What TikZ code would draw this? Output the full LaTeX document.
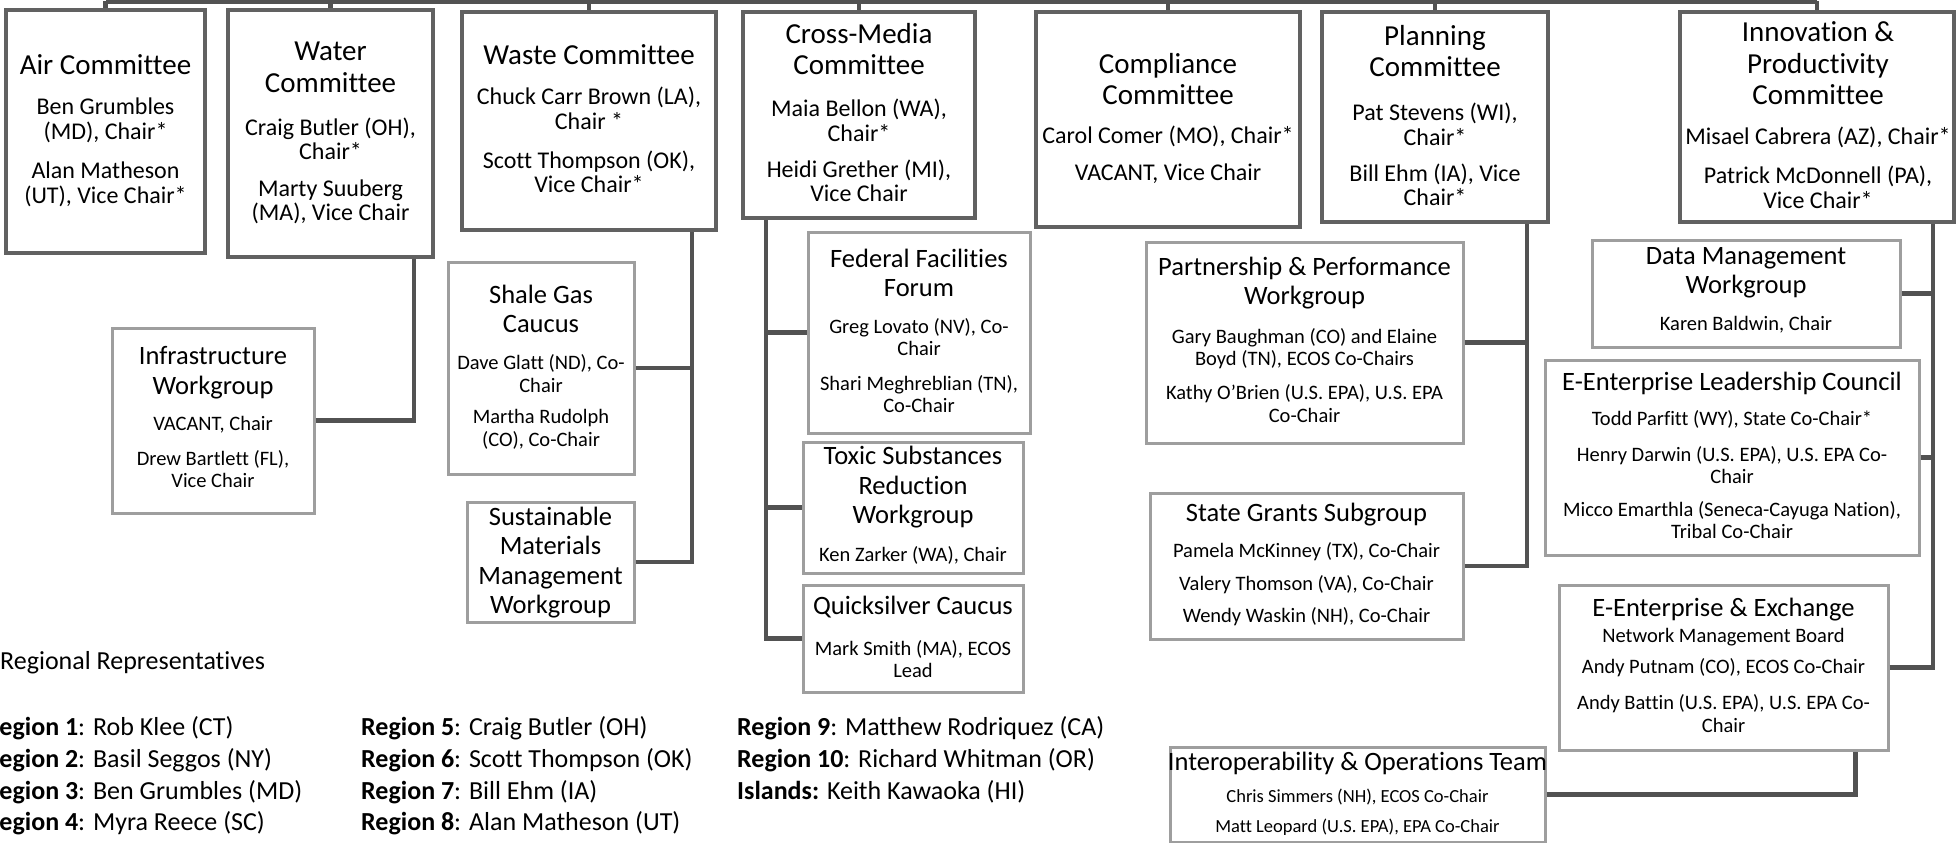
\documentclass[tikz,border=0pt]{standalone}
\usepackage{fontspec}
\setmainfont{Carlito}[Ligatures={TeX,NoCommon,NoContextual}]
\usetikzlibrary{calc}
\newcommand{\fs}[2]{\fontsize{#1}{#2}\selectfont}
\newcommand{\mkbox}[6]{\node[#2, minimum width={(#5)-(#3)}, minimum height={(#6)-(#4)}] (#1) at ({((#3)+(#5))/2},{((#4)+(#6))/2}) {};}
\tikzset{
 cbox/.style={draw=black!62, line width=4pt, fill=white, inner sep=0pt, rectangle},
 wbox/.style={draw=black!38, line width=3pt, fill=white, inner sep=0pt, rectangle},
 conn/.style={draw=black!68, line width=4.5pt},
 ctitle/.style={align=center, inner sep=0pt, font=\fs{29}{31.5}},
 cbody/.style={align=center, inner sep=0pt, font=\fs{24}{24.5}},
 wtitle/.style={align=center, inner sep=0pt, font=\fs{26.5}{29.5}},
 wbody/.style={align=center, inner sep=0pt, font=\fs{20.5}{22.5}},
 sbody/.style={align=center, inner sep=0pt, font=\fs{18.5}{21}},
 reg/.style={anchor=west, inner sep=0pt, font=\fs{26}{30}},
}
\begin{document}
\begin{tikzpicture}[x=1pt,y=-1pt]
\clip (0,0) rectangle (1957,843);
\fill[white] (0,0) rectangle (1957,843);

% committees
\mkbox{air}{cbox}{6}{10}{205}{253}
\mkbox{water}{cbox}{228}{10}{433}{257}
\mkbox{waste}{cbox}{462}{12}{716}{230}
\mkbox{cm}{cbox}{743}{12}{975}{218}
\mkbox{comp}{cbox}{1036}{12}{1300}{227}
\mkbox{plan}{cbox}{1322}{12}{1548}{222}
\mkbox{innov}{cbox}{1680}{12}{1954}{222}

% workgroups
\mkbox{infra}{wbox}{112}{328}{314}{513}
\mkbox{shale}{wbox}{448}{262}{634}{474}
\mkbox{sust}{wbox}{467}{502}{634}{622}
\mkbox{fed}{wbox}{808}{232}{1030}{433}
\mkbox{toxic}{wbox}{803}{442}{1023}{573}
\mkbox{quick}{wbox}{803}{585}{1023}{692}
\mkbox{part}{wbox}{1146}{242}{1463}{443}
\mkbox{sg}{wbox}{1150}{493}{1463}{639}
\mkbox{dm}{wbox}{1592}{240}{1900}{347}
\mkbox{elc}{wbox}{1545}{360}{1919}{555}
\mkbox{ee}{wbox}{1559}{585}{1888}{750}
\mkbox{iop}{wbox}{1170}{747}{1545}{842}

% bus and drops
\coordinate (busL) at (air.north |- 0,1.5);
\coordinate (busR) at (innov.north |- 0,1.5);
\draw[conn] (busL) -- (busR);
\foreach \b in {air,water,waste,cm,comp,plan,innov}
  \draw[conn] (\b.north) -- (\b.north |- busL);

% branch connectors
\draw[conn] (infra.east) -| ([xshift=-21pt]water.south east);
\draw[conn] (shale.east) -| ([xshift=-26pt]waste.south east);
\draw[conn] (sust.east) -| ([xshift=-26pt]waste.south east);
\draw[conn] (fed.west) -| ([xshift=25pt]cm.south west);
\draw[conn] (toxic.west) -| ([xshift=25pt]cm.south west);
\draw[conn] (quick.west) -| ([xshift=25pt]cm.south west);
\draw[conn] (part.east) -| ([xshift=-23pt]plan.south east);
\draw[conn] (sg.east) -| ([xshift=-23pt]plan.south east);
\draw[conn] (dm.east) -| ([xshift=-23pt]innov.south east);
\draw[conn] (elc.east) -| ([xshift=-23pt]innov.south east);
\draw[conn] (ee.east) -| ([xshift=-23pt]innov.south east);
\draw[conn] (iop.east) -| ([xshift=-34pt]ee.south east);

% committee texts
\node[ctitle] (air-t) at (105.5,65) {Air Committee};
\node[cbody] (air-1) at (105.5,120.5) {Ben Grumbles\\(MD), Chair*};
\node[cbody] (air-2) at (105.5,184.5) {Alan Matheson\\(UT), Vice Chair*};

\node[ctitle] (water-t) at (330.5,67.5) {Water\\Committee};
\node[cbody] (water-1) at (330.5,139) {Craig Butler (OH),\\Chair*};
\node[cbody] (water-2) at (330.5,201.7) {Marty Suuberg\\(MA), Vice Chair};

\node[ctitle] (waste-t) at (589,55) {Waste Committee};
\node[cbody] (waste-1) at (589,108.3) {Chuck Carr Brown (LA),\\Chair *};
\node[cbody] (waste-2) at (589,171.7) {Scott Thompson (OK),\\Vice Chair*};

\node[ctitle] (cm-t) at (859,49.2) {Cross-Media\\Committee};
\node[cbody] (cm-1) at (859,120.3) {Maia Bellon (WA),\\Chair*};
\node[cbody] (cm-2) at (859,180.8) {Heidi Grether (MI),\\Vice Chair};

\node[ctitle] (comp-t) at (1168,79.2) {Compliance\\Committee};
\node[cbody] (comp-1) at (1168,136.7) {Carol Comer (MO), Chair*};
\node[cbody] (comp-2) at (1168,173.3) {VACANT, Vice Chair};

\node[ctitle] (plan-t) at (1435,50.8) {Planning\\Committee};
\node[cbody] (plan-1) at (1435,124.2) {Pat Stevens (WI),\\Chair*};
\node[cbody] (plan-2) at (1435,185) {Bill Ehm (IA), Vice\\Chair*};

\node[ctitle] (innov-t) at (1818,63.3) {Innovation \&\\Productivity\\Committee};
\node[cbody] (innov-1) at (1818,137) {Misael Cabrera (AZ), Chair*};
\node[cbody] (innov-2) at (1818,187.5) {Patrick McDonnell (PA),\\Vice Chair*};

% workgroup texts
\node[wtitle] (infra-t) at (213,372.5) {Infrastructure\\Workgroup};
\node[wbody] (infra-1) at (213,425) {VACANT, Chair};
\node[wbody] (infra-2) at (213,469) {Drew Bartlett (FL),\\Vice Chair};

\node[wtitle] (shale-t) at (541,309) {Shale Gas\\Caucus};
\node[wbody] (shale-1) at (541,373.5) {Dave Glatt (ND), Co-\\Chair};
\node[wbody] (shale-2) at (541,429.5) {Martha Rudolph\\(CO), Co-Chair};

\node[wtitle] (sust-t) at (550.5,562.5) {Sustainable\\Materials\\Management\\Workgroup};

\node[wtitle] (fed-t) at (919,273) {Federal Facilities\\Forum};
\node[wbody] (fed-1) at (919,337) {Greg Lovato (NV), Co-\\Chair};
\node[wbody] (fed-2) at (919,394) {Shari Meghreblian (TN),\\Co-Chair};

\node[wtitle] (toxic-t) at (913,487.5) {Toxic Substances\\Reduction\\Workgroup};
\node[wbody] (toxic-1) at (913,555) {Ken Zarker (WA), Chair};

\node[wtitle] (quick-t) at (913,607) {Quicksilver Caucus};
\node[wbody] (quick-1) at (913,659) {Mark Smith (MA), ECOS\\Lead};

\node[wtitle] (part-t) at (1304.5,283) {Partnership \& Performance\\Workgroup};
\node[wbody] (part-1) at (1304.5,348.5) {Gary Baughman (CO) and Elaine\\Boyd (TN), ECOS Co-Chairs};
\node[wbody] (part-2) at (1304.5,403.5) {Kathy O’Brien (U.S. EPA), U.S. EPA\\Co-Chair};

\node[wtitle] (sg-t) at (1306.5,515) {State Grants Subgroup};
\node[wbody] (sg-1) at (1306.5,552) {Pamela McKinney (TX), Co-Chair};
\node[wbody] (sg-2) at (1306.5,585) {Valery Thomson (VA), Co-Chair};
\node[wbody] (sg-3) at (1306.5,617) {Wendy Waskin (NH), Co-Chair};

\node[wtitle] (dm-t) at (1746,273) {Data Management\\Workgroup};
\node[wbody] (dm-1) at (1746,325) {Karen Baldwin, Chair};

\node[wtitle] (elc-t) at (1732,383) {E-Enterprise Leadership Council};
\node[wbody] (elc-1) at (1732,419) {Todd Parfitt (WY), State Co-Chair*};
\node[wbody] (elc-2) at (1732,465) {Henry Darwin (U.S. EPA), U.S. EPA Co-\\Chair};
\node[wbody] (elc-3) at (1732,520) {Micco Emarthla (Seneca-Cayuga Nation),\\Tribal Co-Chair};

\node[wtitle] (ee-t) at (1723.5,610) {E-Enterprise \& Exchange};
\node[wbody] (ee-s) at (1723.5,637) {Network Management Board};
\node[wbody] (ee-1) at (1723.5,668) {Andy Putnam (CO), ECOS Co-Chair};
\node[wbody] (ee-2) at (1723.5,713.5) {Andy Battin (U.S. EPA), U.S. EPA Co-\\Chair};

\node[wtitle] (iop-t) at (1357.5,763) {Interoperability \& Operations Team};
\node[sbody] (iop-1) at (1357.5,797) {Chris Simmers (NH), ECOS Co-Chair};
\node[sbody] (iop-2) at (1357.5,827) {Matt Leopard (U.S. EPA), EPA Co-Chair};

% regional representatives
\node[reg] (rr) at (0,663) {Regional Representatives};
\node[reg] (r1) at (-15,728) {\textbf{Region 1}: Rob Klee (CT)};
\node[reg] (r2) at (-15,760) {\textbf{Region 2}: Basil Seggos (NY)};
\node[reg] (r3) at (-15,792) {\textbf{Region 3}: Ben Grumbles (MD)};
\node[reg] (r4) at (-15,823) {\textbf{Region 4}: Myra Reece (SC)};
\node[reg] (r5) at (361,728) {\textbf{Region 5}: Craig Butler (OH)};
\node[reg] (r6) at (361,760) {\textbf{Region 6}: Scott Thompson (OK)};
\node[reg] (r7) at (361,792) {\textbf{Region 7}: Bill Ehm (IA)};
\node[reg] (r8) at (361,823) {\textbf{Region 8}: Alan Matheson (UT)};
\node[reg] (r9) at (737,728) {\textbf{Region 9}: Matthew Rodriquez (CA)};
\node[reg] (r10) at (737,760) {\textbf{Region 10}: Richard Whitman (OR)};
\node[reg] (ri) at (737,792) {\textbf{Islands:} Keith Kawaoka (HI)};
\end{tikzpicture}
\end{document}
